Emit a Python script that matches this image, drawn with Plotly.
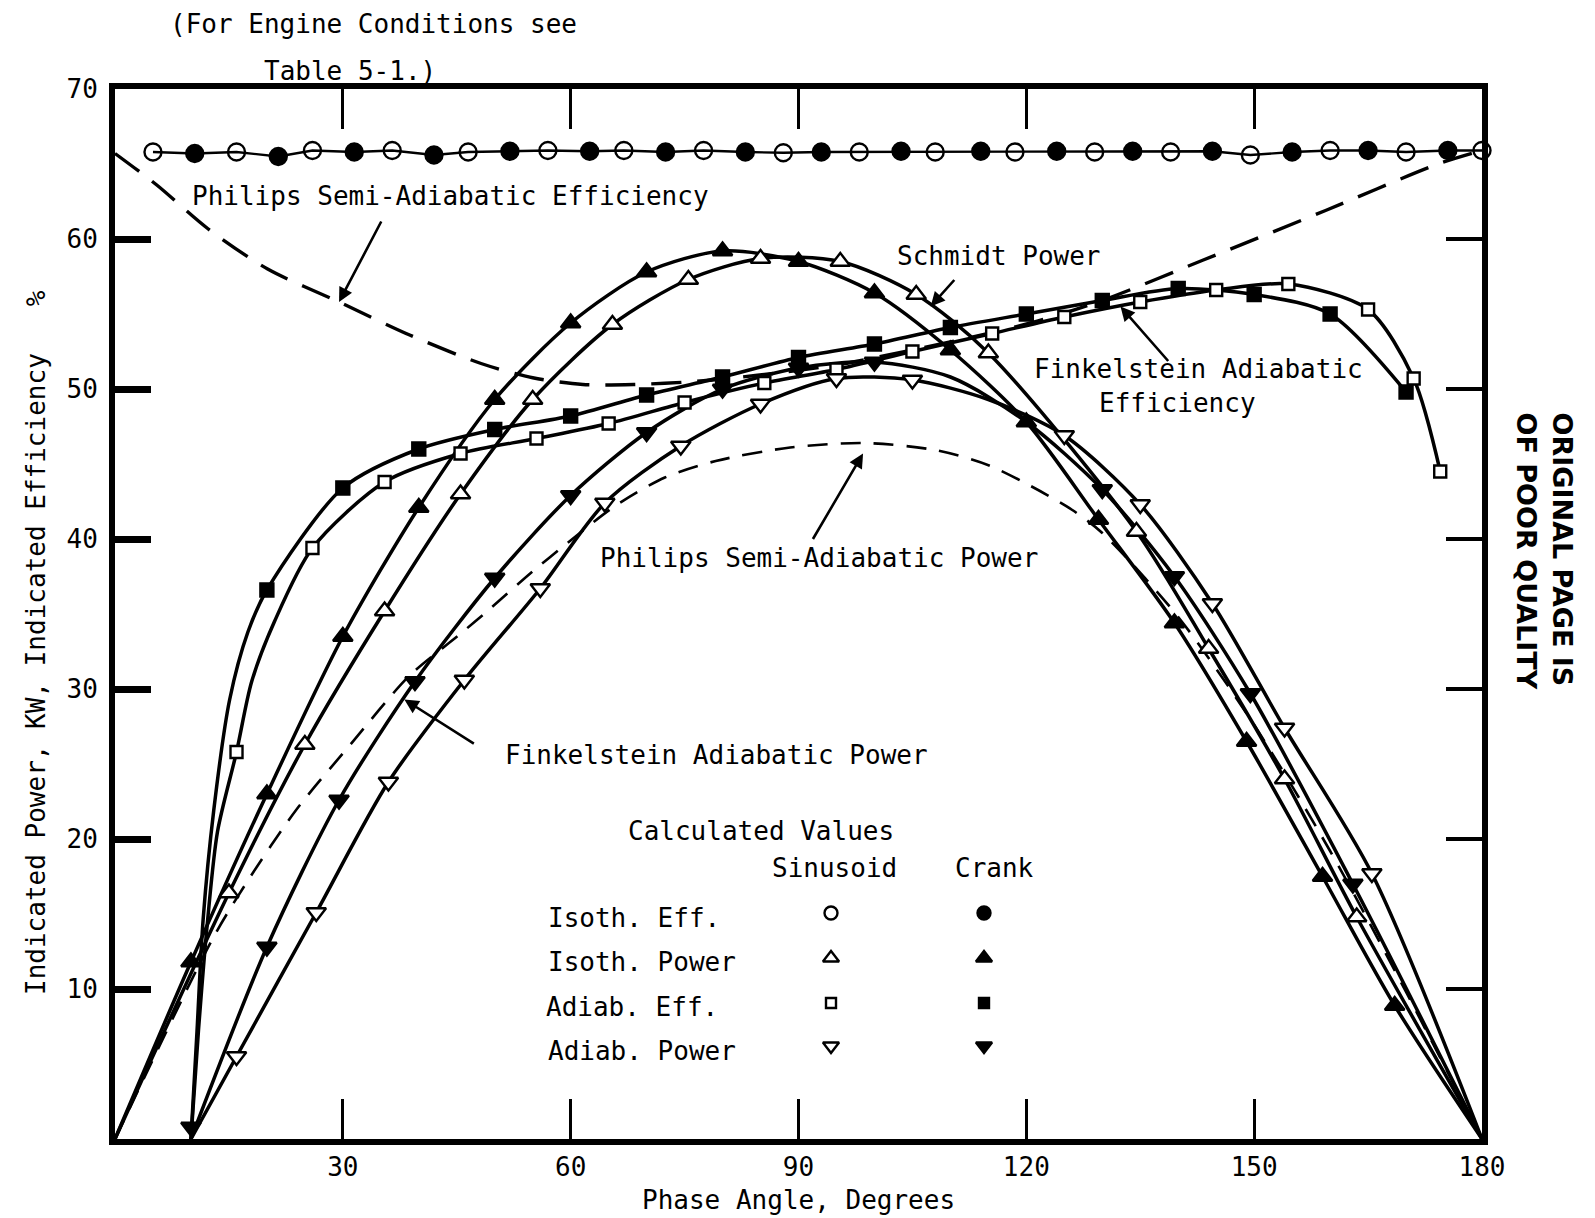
import plotly.graph_objects as go

FONT = "DejaVu Sans Mono"
INK = "black"

# ---------------- axis ticks ----------------
phase_ticks = [30, 60, 90, 120, 150, 180]
value_ticks = [10, 20, 30, 40, 50, 60, 70]

# ---------------- isothermal efficiency, % ----------------
iso_eff_sin_x = [5, 16, 26, 36.5, 46.5, 57, 67, 77.5, 88, 98, 108, 118.5, 129, 139, 149.5, 160, 170, 180]
iso_eff_sin_y = [65.8, 65.8, 65.9, 65.9, 65.8, 65.9, 65.9, 65.9, 65.75, 65.8, 65.8, 65.8, 65.8, 65.8, 65.6, 65.9, 65.8, 65.9]
iso_eff_crank_x = [10.5, 21.5, 31.5, 42, 52, 62.5, 72.5, 83, 93, 103.5, 114, 124, 134, 144.5, 155, 165, 175.5]
iso_eff_crank_y = [65.7, 65.5, 65.8, 65.6, 65.85, 65.85, 65.8, 65.8, 65.8, 65.85, 65.85, 65.85, 65.85, 65.85, 65.8, 65.9, 65.9]

# ---------------- isothermal power, kW ----------------
iso_pow_sin_x = [15, 25, 35.5, 45.5, 55, 65.5, 75.5, 85, 95.5, 105.5, 115, 134.5, 144, 154, 163.5]
iso_pow_sin_y = [16.4, 26.3, 35.2, 43.0, 49.3, 54.3, 57.3, 58.7, 58.5, 56.3, 52.4, 40.5, 32.7, 24.0, 14.8]
iso_pow_crank_x = [10, 20, 30, 40, 50, 60, 70, 80, 90, 100, 110, 120, 129.5, 139.5, 149, 159, 168.5]
iso_pow_crank_y = [11.8, 23.0, 33.5, 42.1, 49.3, 54.4, 57.8, 59.2, 58.5, 56.4, 52.6, 47.8, 41.3, 34.4, 26.5, 17.5, 8.9]
iso_pow_ends_x = [0, 180]
iso_pow_ends_y = [0, 0]

# ---------------- adiabatic efficiency, % ----------------
ad_eff_sin_x = [16, 26, 35.5, 45.5, 55.5, 65, 75, 85.5, 95, 105, 115.5, 125, 135, 145, 154.5, 165, 171, 174.5]
ad_eff_sin_y = [25.8, 39.4, 43.8, 45.7, 46.7, 47.7, 49.1, 50.4, 51.3, 52.5, 53.7, 54.8, 55.8, 56.6, 57.0, 55.3, 50.7, 44.5]
ad_eff_sin_rise_x = [10, 11, 12.2, 13.5, 18, 21]
ad_eff_sin_rise_y = [0, 7.3, 14.6, 20.5, 30.5, 34.5]
ad_eff_crank_x = [20, 30, 40, 50, 60, 70, 80, 90, 100, 110, 120, 130, 140, 150, 160, 170]
ad_eff_crank_y = [36.6, 43.4, 46.0, 47.3, 48.2, 49.6, 50.8, 52.1, 53.0, 54.1, 55.0, 55.9, 56.7, 56.3, 55.0, 49.8]
ad_eff_crank_rise_x = [10, 10.8, 11.6, 13, 15.1, 17.5]
ad_eff_crank_rise_y = [0, 7.2, 14.6, 21.9, 29.3, 33.8]

# ---------------- adiabatic power, kW ----------------
ad_pow_sin_x = [16, 26.5, 36, 46, 56, 64.5, 74.5, 85, 95, 105, 125, 135, 144.5, 154, 165.5]
ad_pow_sin_y = [5.5, 15.1, 23.8, 30.6, 36.7, 42.4, 46.2, 49.0, 50.7, 50.6, 46.9, 42.3, 35.7, 27.4, 17.7]
ad_pow_sin_extra_x = [10, 115, 180]
ad_pow_sin_extra_y = [0, 49.3, 0]
ad_pow_crank_x = [10, 20, 29.5, 39.5, 50, 60, 70, 80, 90, 100, 130, 139.5, 149.5, 163]
ad_pow_crank_y = [0.8, 12.8, 22.6, 30.5, 37.4, 42.9, 47.1, 50.0, 51.4, 51.8, 43.3, 37.5, 29.7, 17.0]
ad_pow_crank_extra_x = [110, 120, 180]
ad_pow_crank_extra_y = [50.8, 47.8, 0]

# ---------------- Philips semi-adiabatic curves ----------------
philips_eff_x = [0, 5.5, 12.2, 20.1, 29.5, 38.8, 48.2, 55, 61.6, 68.3, 76.3, 84.3, 95, 105, 115, 122,
                 130.5, 143.3, 159.4, 174.2, 180]
philips_eff_y = [65.7, 63.6, 60.7, 58.0, 55.8, 53.6, 51.7, 50.75, 50.3, 50.3, 50.5, 50.9, 51.6, 52.6, 53.7, 54.6,
                 56.0, 58.6, 61.9, 65.0, 65.9]
philips_pow_x = [0, 12.8, 17.2, 23.8, 31, 38.8, 45.3, 49.5, 54.9, 59.5, 65.7, 72.4, 79.1, 88.9, 98.7, 108.3,
                 115.1, 120.7, 126.0, 130.0, 140, 150, 160, 170, 180]
philips_pow_y = [0, 13.3, 17.0, 21.9, 26.3, 30.9, 33.6, 35.4, 37.8, 39.7, 42.15, 44.1, 45.2, 46.1, 46.4, 45.9,
                 44.9, 43.5, 41.95, 40.4, 34.8, 27.6, 19.2, 9.8, 0]

# ---------------- page geometry (pixels) ----------------
W, H = 1595, 1218
L, R, T, B = 115, 1482, 89, 1139


def px(x):
    return (x - L) / (R - L)


def py(y):
    return (B - y) / (B - T)


def merged(*pairs):
    pts = []
    for xs, ys in pairs:
        pts.extend(zip(xs, ys))
    pts.sort(key=lambda p: p[0])
    return [p[0] for p in pts], [p[1] for p in pts]


fig = go.Figure()


def add_curve(xs, ys, width=3.5, dash="solid", shape="spline"):
    fig.add_trace(go.Scatter(
        x=xs, y=ys, mode="lines", hoverinfo="skip", showlegend=False, cliponaxis=False,
        line=dict(color=INK, width=width, dash=dash, shape=shape, smoothing=0.8)))


def add_points(xs, ys, symbol, filled, size, **kw):
    fig.add_trace(go.Scatter(
        x=xs, y=ys, mode="markers", showlegend=False, cliponaxis=False, **kw,
        marker=dict(symbol=symbol, size=size, color=INK if filled else "white",
                    line=dict(color=INK, width=2.4))))


# curves
cx, cy = merged((iso_eff_sin_x, iso_eff_sin_y), (iso_eff_crank_x, iso_eff_crank_y))
add_curve(cx, cy, width=2.4, shape="linear")
add_curve(philips_eff_x, philips_eff_y, width=3.4, dash="30px,16px")
add_curve(philips_pow_x, philips_pow_y, width=2.6, dash="20px,13px")

add_curve(*merged((iso_pow_ends_x, iso_pow_ends_y), (iso_pow_crank_x, iso_pow_crank_y)))
add_curve(*merged((iso_pow_ends_x, iso_pow_ends_y), (iso_pow_sin_x, iso_pow_sin_y)))
add_curve(*merged((ad_eff_crank_rise_x, ad_eff_crank_rise_y), (ad_eff_crank_x, ad_eff_crank_y)))
add_curve(*merged((ad_eff_sin_rise_x, ad_eff_sin_rise_y), (ad_eff_sin_x, ad_eff_sin_y)))
add_curve(*merged((ad_pow_crank_extra_x, ad_pow_crank_extra_y),
                  ([10] + ad_pow_crank_x[1:], [0] + ad_pow_crank_y[1:])))
add_curve(*merged((ad_pow_sin_extra_x, ad_pow_sin_extra_y), (ad_pow_sin_x, ad_pow_sin_y)))

# computed points
add_points(iso_eff_sin_x, iso_eff_sin_y, "circle-open", False, 17)
fig.data[-1].marker.color = INK
add_points(iso_eff_crank_x, iso_eff_crank_y, "circle", True, 17)
add_points(iso_pow_sin_x, iso_pow_sin_y, "triangle-up", False, 17)
add_points(iso_pow_crank_x, iso_pow_crank_y, "triangle-up", True, 17)
add_points(ad_eff_sin_x, ad_eff_sin_y, "square", False, 12)
add_points(ad_eff_crank_x, ad_eff_crank_y, "square", True, 13)
add_points(ad_pow_sin_x, ad_pow_sin_y, "triangle-down", False, 17)
add_points(ad_pow_crank_x, ad_pow_crank_y, "triangle-down", True, 17)

# key symbols (overlay axes spanning the plot area)
key_rows = [py(913), py(958), py(1003), py(1046)]
key_cols = [px(831), px(984)]
key_symbols = ["circle", "triangle-up", "square", "triangle-down"]
key_sizes = [13, 14, 10, 14]
for row, sym, size in zip(key_rows, key_symbols, key_sizes):
    add_points([key_cols[0]], [row], sym, False, size, xaxis="x2", yaxis="y2")
    add_points([key_cols[1]], [row], sym, True, size, xaxis="x2", yaxis="y2")

tfont = dict(family=FONT, size=26, color=INK)

texts = [
    ("(For Engine Conditions see", 168, 24),
    ("Table 5-1.)", 262, 71),
    ("Philips Semi-Adiabatic Efficiency", 190, 196),
    ("Schmidt Power", 895, 256),
    ("Finkelstein Adiabatic", 1032, 369),
    ("Efficiency", 1097, 403),
    ("Philips Semi-Adiabatic Power", 598, 558),
    ("Finkelstein Adiabatic Power", 503, 755),
    ("Calculated Values", 626, 831),
    ("Sinusoid", 770, 868),
    ("Crank", 953, 868),
    ("Isoth. Eff.", 546, 918),
    ("Isoth. Power", 546, 962),
    ("Adiab. Eff.", 544, 1007),
    ("Adiab. Power", 546, 1051),
]
annotations = [
    dict(text=t, x=px(x), y=py(y), xref="paper", yref="paper", xanchor="left", yanchor="middle",
         showarrow=False, font=tfont)
    for t, x, y in texts
]

# axis titles
annotations.append(dict(text="Phase Angle, Degrees", x=px(798), y=py(1200), xref="paper", yref="paper",
                        xanchor="center", yanchor="middle", showarrow=False, font=tfont))
annotations.append(dict(text="Indicated Power, KW, Indicated Efficiency   %", x=px(36), y=py(643),
                        xref="paper", yref="paper", xanchor="center", yanchor="middle", textangle=-90,
                        showarrow=False, font=tfont))
annotations.append(dict(text="ORIGINAL PAGE IS<br>OF POOR QUALITY", x=px(1545), y=py(410),
                        xref="paper", yref="paper", xanchor="center", yanchor="top", textangle=90,
                        align="left", showarrow=False,
                        font=dict(family="DejaVu Sans", size=27, color=INK, weight="bold")))

# pointer arrows: head on a curve (data units), tail offset in pixels
arrows = [
    (29.5, 55.8, 43, -82),
    (107.4, 55.5, 25, -28),
    (132.4, 55.5, 49, 56),
    (98.5, 45.7, -51, 87),
    (38.1, 29.3, 71, 45),
]
for hx, hy, ax, ay in arrows:
    annotations.append(dict(x=hx, y=hy, xref="x", yref="y", ax=ax, ay=ay, axref="pixel", ayref="pixel",
                            text="", showarrow=True, arrowhead=2, arrowsize=1.1, arrowwidth=2.6,
                            arrowcolor=INK))

frame = dict(showline=True, linewidth=6, linecolor=INK, showgrid=False, zeroline=False)

fig.update_layout(
    width=W, height=H,
    margin=dict(l=L, r=W - R, t=T, b=H - B, pad=0),
    paper_bgcolor="white", plot_bgcolor="white",
    showlegend=False,
    xaxis=dict(range=[0, 180], tickvals=phase_ticks, ticks="inside", ticklen=40, tickwidth=3,
               tickcolor=INK, mirror="ticks", tickfont=tfont, **frame),
    yaxis=dict(range=[0, 70], tickvals=value_ticks, ticks="inside", ticklen=36, tickwidth=7,
               tickcolor=INK, ticklabelstandoff=6, mirror=True, tickfont=tfont, **frame),
    # lighter tick marks along the right-hand border
    yaxis3=dict(range=[0, 70], tickvals=value_ticks[:-1], ticks="inside", ticklen=36, tickwidth=4,
                tickcolor=INK, overlaying="y", side="right", anchor="x", showticklabels=False,
                showline=False, showgrid=False, zeroline=False),
    xaxis2=dict(range=[0, 1], overlaying="x", visible=False, anchor="y2"),
    yaxis2=dict(range=[0, 1], overlaying="y", visible=False, anchor="x2"),
    annotations=annotations,
)

# an empty trace keeps the right-hand tick axis drawn
fig.add_trace(go.Scatter(x=[None], y=[None], yaxis="y3", showlegend=False, hoverinfo="skip"))

fig.write_html("out.html")
